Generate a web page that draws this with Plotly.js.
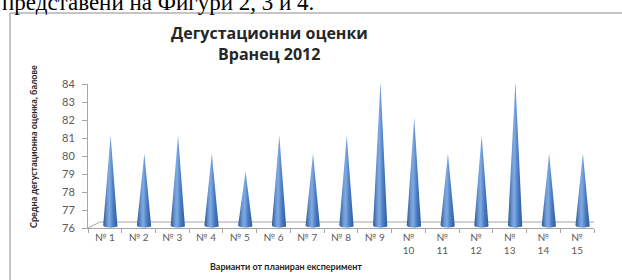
<!DOCTYPE html>
<html>
<head>
<meta charset="utf-8">
<script src="https://cdn.plot.ly/plotly-3.0.1.min.js"></script>
<style>html,body{margin:0;padding:0;background:#fff;}#chart{width:622px;height:280px;}</style>
</head>
<body>
<div id="chart"></div>
<script>
const categories = ['№ 1','№ 2','№ 3','№ 4','№ 5','№ 6','№ 7','№ 8','№ 9','№<br>10','№<br>11','№<br>12','№<br>13','№<br>14','№<br>15'];
const scores = [81, 80, 81, 80, 79, 81, 80, 81, 84, 82, 80, 81, 84, 80, 80];
const yTicks = [76, 77, 78, 79, 80, 81, 82, 83, 84];
const titleLines = ['Дегустационни оценки', 'Вранец 2012'];
const yTitle = 'Средна дегустационна оценка, балове';
const xTitle = 'Варианти от планиран експеримент';
const headerText = 'представени на Фигури 2, 3 и 4.';

const W = 622, H = 280;
const L = 88, R = 594, T = 84, B = 228;
const px = v => (v - L) / (R - L);
const py = v => (B - v) / (B - T);

const yMin = yTicks[0], yMax = yTicks[yTicks.length - 1];
const depthX = 0.17, depthY = 0.14;   // 3D offset of the cone row
const halfW = 0.22, baseH = 0.12;

const traces = [{
  x: categories, y: scores, type: 'scatter', mode: 'markers',
  marker: {opacity: 0}, hoverinfo: 'skip', showlegend: false, xaxis: 'x', yaxis: 'y'
}];

scores.forEach((v, k) => {
  const xs = [k], ys = [v];
  const n = 16;
  for (let j = 0; j <= n; j++) {
    const t = Math.PI * j / n;
    xs.push(k + halfW * Math.cos(t));
    ys.push(yMin - baseH * Math.sin(t));
  }
  xs.push(k); ys.push(v);
  traces.push({
    x: xs, y: ys, type: 'scatter', mode: 'lines', fill: 'toself',
    line: {width: 0, color: '#3a69a8'},
    fillgradient: {type: 'horizontal', colorscale: [[0, '#2b5793'], [0.3, '#6f9ad6'], [0.45, '#7fa9e2'], [0.7, '#4a7cc2'], [1, '#2e5c9c']]},
    hoverinfo: 'skip', showlegend: false, xaxis: 'x2', yaxis: 'y2'
  });
});

const n = categories.length;
const backX = 0.356, backY = 0.333;
const grey = '#a6a6a6';
const titleFont = {size: 16, family: '"Open Sans", Lato, sans-serif', color: '#262626', weight: 'bold'};

const layout = {
  width: W, height: H,
  margin: {l: L, r: W - R, t: T, b: H - B, pad: 0},
  paper_bgcolor: '#fff', plot_bgcolor: 'rgba(0,0,0,0)',
  font: {family: 'Lato, "Open Sans", sans-serif', color: '#595959'},
  showlegend: false,
  xaxis: {
    type: 'category', categoryarray: categories, range: [-0.5, n - 0.5], fixedrange: true,
    tickson: 'boundaries', ticks: 'outside', ticklen: 4, tickcolor: grey, tickangle: 0,
    showline: true, linecolor: grey, linewidth: 1, showgrid: false, zeroline: false,
    tickfont: {size: 10, color: '#595959'}
  },
  yaxis: {
    range: [yMin, yMax], tickvals: yTicks, ticks: 'outside', ticklen: 5, tickcolor: grey,
    showline: true, linecolor: grey, linewidth: 1, showgrid: false, zeroline: false,
    tickfont: {size: 11, color: '#595959'}, ticklabelstandoff: 5, fixedrange: true
  },
  xaxis2: {overlaying: 'x', range: [-0.5 - depthX, n - 0.5 - depthX], visible: false, fixedrange: true},
  yaxis2: {overlaying: 'y', range: [yMin - depthY, yMax - depthY], visible: false, fixedrange: true},
  shapes: [
    {type: 'line', xref: 'x', yref: 'y', x0: -0.5, y0: yMin, x1: -0.5 + backX, y1: yMin + backY, line: {color: grey, width: 1}, layer: 'below'},
    {type: 'line', xref: 'x', yref: 'y', x0: -0.5 + backX, y0: yMin + backY, x1: n - 0.5 + backX, y1: yMin + backY, line: {color: grey, width: 1}, layer: 'below'},
    {type: 'line', xref: 'x', yref: 'y', x0: n - 0.5 + backX, y0: yMin + backY, x1: n - 0.5, y1: yMin, line: {color: grey, width: 1}, layer: 'below'},
    {type: 'rect', xref: 'paper', yref: 'paper', x0: px(10), x1: px(640), y0: py(300), y1: py(13), line: {color: '#8c8c8c', width: 1}, fillcolor: 'rgba(0,0,0,0)', layer: 'below'}
  ],
  annotations: [
    {text: headerText, xref: 'paper', yref: 'paper', x: px(0), xanchor: 'left', y: py(17), yanchor: 'bottom',
     showarrow: false, font: {family: '"Liberation Serif", "Times New Roman", serif', size: 23, color: '#000'}},
    {text: titleLines[0], xref: 'paper', yref: 'paper', x: px(269), xanchor: 'center', y: py(33), yanchor: 'middle',
     showarrow: false, font: titleFont},
    {text: titleLines[1], xref: 'paper', yref: 'paper', x: px(269), xanchor: 'center', y: py(54), yanchor: 'middle',
     showarrow: false, font: titleFont},
    {text: yTitle, xref: 'paper', yref: 'paper', x: px(33), xanchor: 'center', y: py(147), yanchor: 'middle', textangle: -90,
     showarrow: false, font: {size: 9, color: '#262626', weight: 'bold'}},
    {text: xTitle, xref: 'paper', yref: 'paper', x: px(286), xanchor: 'center', y: py(266), yanchor: 'middle',
     showarrow: false, font: {size: 9, color: '#262626', weight: 'bold'}}
  ]
};

Plotly.newPlot('chart', traces, layout, {displayModeBar: false, staticPlot: true});
</script>
</body>
</html>
